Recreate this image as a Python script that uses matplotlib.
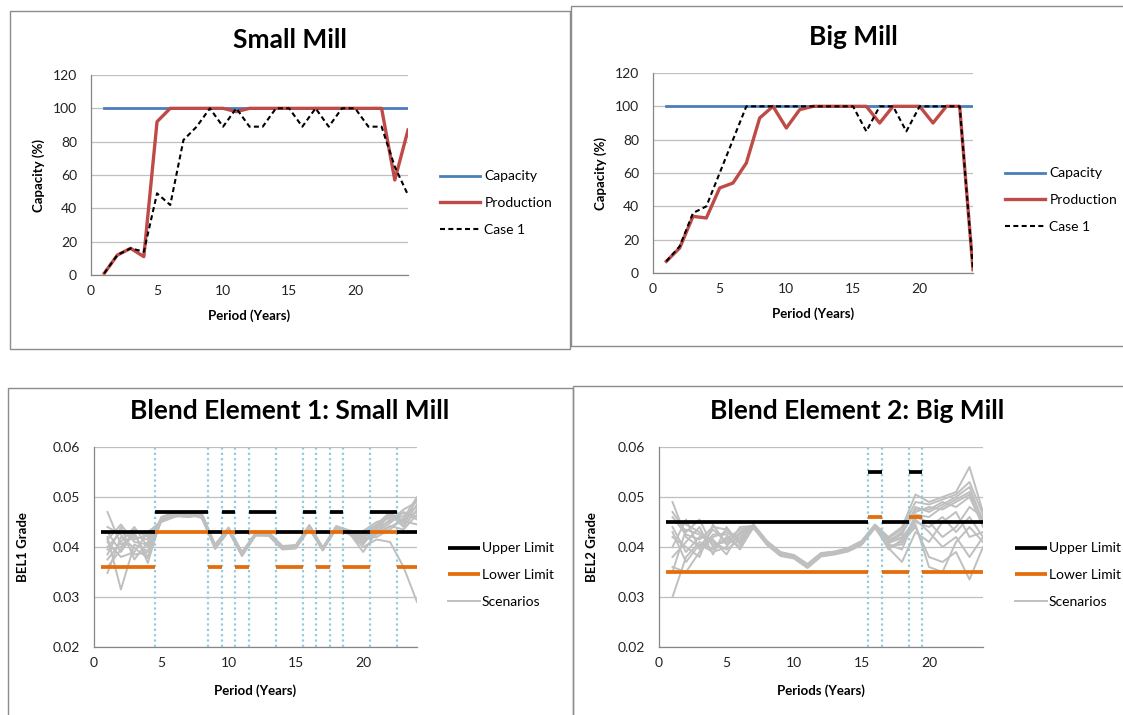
import matplotlib
matplotlib.use("Agg")
import matplotlib.pyplot as plt
from matplotlib.patches import Rectangle
from matplotlib.ticker import FormatStrFormatter

plt.rcParams['font.family'] = ['Lato', 'DejaVu Sans']

W, H = 1123, 715

# ---- mill capacity data (% of capacity per period) ----
periods = list(range(1, 25))

small_capacity = [100] * 24
small_production = [1, 12, 16, 11, 92, 100, 100, 100, 100, 100, 98, 100,
                    100, 100, 100, 100, 100, 100, 100, 100, 100, 100, 57, 87]
small_case1 = [1, 12, 16, 14, 49, 42, 81, 89, 100, 89, 100, 89,
               89, 100, 100, 89, 100, 89, 100, 100, 89, 89, 65, 48]

big_capacity = [100] * 24
big_production = [7, 15, 34, 33, 51, 54, 66, 93, 100, 87, 98, 100,
                  100, 100, 100, 100, 90, 100, 100, 100, 90, 100, 100, 2]
big_case1 = [7, 16, 36, 40, 60, 80, 100, 100, 100, 100, 100, 100,
             100, 100, 100, 85, 100, 100, 85, 100, 100, 100, 100, 2]

# ---- blend grade limits per period ----
bel1_upper = [0.043, 0.043, 0.043, 0.043, 0.047, 0.047, 0.047, 0.047, 0.043, 0.047, 0.043, 0.047,
              0.047, 0.043, 0.043, 0.047, 0.043, 0.047, 0.043, 0.043, 0.047, 0.047, 0.043, 0.043]
bel1_lower = [0.036, 0.036, 0.036, 0.036, 0.043, 0.043, 0.043, 0.043, 0.036, 0.043, 0.036, 0.043,
              0.043, 0.036, 0.036, 0.043, 0.036, 0.043, 0.036, 0.036, 0.043, 0.043, 0.036, 0.036]
bel2_upper = [0.045, 0.045, 0.045, 0.045, 0.045, 0.045, 0.045, 0.045, 0.045, 0.045, 0.045, 0.045,
              0.045, 0.045, 0.045, 0.055, 0.045, 0.045, 0.055, 0.045, 0.045, 0.045, 0.045, 0.045]
bel2_lower = [0.035, 0.035, 0.035, 0.035, 0.035, 0.035, 0.035, 0.035, 0.035, 0.035, 0.035, 0.035,
              0.035, 0.035, 0.035, 0.046, 0.035, 0.035, 0.046, 0.035, 0.035, 0.035, 0.035, 0.035]

# ---- blend grade scenarios ----
bel1_scenarios = [
    [0.0470, 0.0405, 0.0420, 0.0415, 0.0455, 0.0466, 0.0464, 0.0462, 0.0402, 0.0436, 0.0386, 0.0424,
     0.0426, 0.0399, 0.0401, 0.0441, 0.0396, 0.0437, 0.0428, 0.0420, 0.0432, 0.0455, 0.0462, 0.0480],
    [0.0348, 0.0420, 0.0398, 0.0378, 0.0452, 0.0462, 0.0460, 0.0465, 0.0398, 0.0433, 0.0382, 0.0426,
     0.0424, 0.0396, 0.0398, 0.0438, 0.0394, 0.0440, 0.0430, 0.0412, 0.0425, 0.0440, 0.0455, 0.0470],
    [0.0420, 0.0315, 0.0405, 0.0392, 0.0458, 0.0468, 0.0463, 0.0460, 0.0404, 0.0438, 0.0388, 0.0427,
     0.0428, 0.0401, 0.0403, 0.0443, 0.0398, 0.0436, 0.0426, 0.0400, 0.0415, 0.0410, 0.0360, 0.0290],
    [0.0385, 0.0440, 0.0375, 0.0410, 0.0450, 0.0460, 0.0466, 0.0458, 0.0396, 0.0431, 0.0384, 0.0423,
     0.0422, 0.0395, 0.0397, 0.0436, 0.0393, 0.0439, 0.0431, 0.0405, 0.0440, 0.0462, 0.0450, 0.0495],
    [0.0430, 0.0390, 0.0430, 0.0368, 0.0460, 0.0470, 0.0467, 0.0468, 0.0405, 0.0439, 0.0390, 0.0428,
     0.0429, 0.0402, 0.0404, 0.0444, 0.0399, 0.0442, 0.0433, 0.0428, 0.0445, 0.0470, 0.0445, 0.0485],
    [0.0400, 0.0430, 0.0415, 0.0425, 0.0453, 0.0464, 0.0461, 0.0463, 0.0399, 0.0434, 0.0383, 0.0425,
     0.0425, 0.0397, 0.0399, 0.0439, 0.0395, 0.0438, 0.0427, 0.0390, 0.0430, 0.0448, 0.0470, 0.0460],
    [0.0375, 0.0410, 0.0440, 0.0400, 0.0457, 0.0467, 0.0465, 0.0461, 0.0403, 0.0437, 0.0387, 0.0426,
     0.0427, 0.0400, 0.0402, 0.0442, 0.0397, 0.0441, 0.0429, 0.0418, 0.0420, 0.0435, 0.0458, 0.0500],
    [0.0410, 0.0380, 0.0390, 0.0430, 0.0451, 0.0463, 0.0462, 0.0464, 0.0397, 0.0432, 0.0385, 0.0424,
     0.0423, 0.0398, 0.0400, 0.0437, 0.0396, 0.0437, 0.0425, 0.0408, 0.0436, 0.0465, 0.0440, 0.0475],
    [0.0440, 0.0425, 0.0385, 0.0390, 0.0456, 0.0465, 0.0463, 0.0466, 0.0401, 0.0435, 0.0386, 0.0427,
     0.0426, 0.0400, 0.0401, 0.0440, 0.0398, 0.0440, 0.0432, 0.0432, 0.0450, 0.0458, 0.0468, 0.0455],
    [0.0395, 0.0400, 0.0425, 0.0380, 0.0454, 0.0466, 0.0464, 0.0462, 0.0400, 0.0434, 0.0384, 0.0425,
     0.0424, 0.0397, 0.0399, 0.0439, 0.0394, 0.0438, 0.0428, 0.0415, 0.0428, 0.0442, 0.0435, 0.0465],
    [0.0415, 0.0445, 0.0410, 0.0405, 0.0459, 0.0469, 0.0466, 0.0460, 0.0402, 0.0436, 0.0389, 0.0426,
     0.0427, 0.0399, 0.0400, 0.0441, 0.0397, 0.0439, 0.0430, 0.0422, 0.0438, 0.0452, 0.0475, 0.0490],
    [0.0360, 0.0395, 0.0435, 0.0420, 0.0452, 0.0463, 0.0460, 0.0464, 0.0398, 0.0433, 0.0383, 0.0423,
     0.0425, 0.0398, 0.0400, 0.0438, 0.0395, 0.0437, 0.0426, 0.0425, 0.0442, 0.0468, 0.0452, 0.0445],
]

bel2_scenarios = [
    [0.0490, 0.0420, 0.0400, 0.0435, 0.0410, 0.0425, 0.0442, 0.0410, 0.0388, 0.0382, 0.0364, 0.0386,
     0.0390, 0.0396, 0.0410, 0.0443, 0.0415, 0.0425, 0.0480, 0.0470, 0.0485, 0.0500, 0.0520, 0.0450],
    [0.0300, 0.0380, 0.0410, 0.0395, 0.0420, 0.0400, 0.0440, 0.0406, 0.0384, 0.0379, 0.0360, 0.0383,
     0.0387, 0.0393, 0.0406, 0.0440, 0.0408, 0.0418, 0.0455, 0.0430, 0.0400, 0.0420, 0.0380, 0.0420],
    [0.0450, 0.0445, 0.0430, 0.0410, 0.0395, 0.0415, 0.0445, 0.0412, 0.0390, 0.0384, 0.0366, 0.0388,
     0.0391, 0.0398, 0.0412, 0.0445, 0.0420, 0.0440, 0.0505, 0.0490, 0.0500, 0.0510, 0.0560, 0.0470],
    [0.0360, 0.0350, 0.0390, 0.0420, 0.0430, 0.0410, 0.0438, 0.0404, 0.0382, 0.0377, 0.0358, 0.0381,
     0.0385, 0.0391, 0.0404, 0.0438, 0.0400, 0.0410, 0.0440, 0.0380, 0.0370, 0.0390, 0.0335, 0.0400],
    [0.0470, 0.0430, 0.0455, 0.0400, 0.0415, 0.0435, 0.0443, 0.0409, 0.0387, 0.0381, 0.0363, 0.0385,
     0.0389, 0.0395, 0.0409, 0.0442, 0.0412, 0.0430, 0.0470, 0.0480, 0.0475, 0.0490, 0.0505, 0.0440],
    [0.0420, 0.0400, 0.0380, 0.0445, 0.0405, 0.0420, 0.0441, 0.0407, 0.0385, 0.0380, 0.0361, 0.0384,
     0.0388, 0.0394, 0.0407, 0.0441, 0.0405, 0.0395, 0.0460, 0.0450, 0.0420, 0.0440, 0.0480, 0.0460],
    [0.0380, 0.0410, 0.0440, 0.0385, 0.0440, 0.0405, 0.0439, 0.0405, 0.0383, 0.0378, 0.0359, 0.0382,
     0.0386, 0.0392, 0.0405, 0.0439, 0.0398, 0.0370, 0.0430, 0.0410, 0.0450, 0.0470, 0.0420, 0.0430],
    [0.0440, 0.0390, 0.0420, 0.0415, 0.0385, 0.0430, 0.0444, 0.0411, 0.0389, 0.0383, 0.0365, 0.0387,
     0.0390, 0.0397, 0.0411, 0.0444, 0.0418, 0.0435, 0.0490, 0.0485, 0.0495, 0.0505, 0.0530, 0.0465],
    [0.0400, 0.0455, 0.0395, 0.0425, 0.0425, 0.0395, 0.0440, 0.0406, 0.0384, 0.0379, 0.0362, 0.0384,
     0.0387, 0.0393, 0.0406, 0.0440, 0.0410, 0.0420, 0.0450, 0.0440, 0.0460, 0.0430, 0.0460, 0.0420],
    [0.0430, 0.0370, 0.0405, 0.0390, 0.0400, 0.0440, 0.0442, 0.0408, 0.0386, 0.0381, 0.0363, 0.0385,
     0.0389, 0.0395, 0.0408, 0.0442, 0.0402, 0.0405, 0.0465, 0.0460, 0.0480, 0.0495, 0.0510, 0.0455],
    [0.0460, 0.0425, 0.0415, 0.0440, 0.0435, 0.0412, 0.0444, 0.0409, 0.0387, 0.0382, 0.0364, 0.0386,
     0.0390, 0.0396, 0.0409, 0.0443, 0.0395, 0.0415, 0.0445, 0.0360, 0.0350, 0.0410, 0.0440, 0.0410],
    [0.0350, 0.0435, 0.0425, 0.0405, 0.0410, 0.0428, 0.0441, 0.0407, 0.0385, 0.0380, 0.0360, 0.0383,
     0.0387, 0.0394, 0.0407, 0.0441, 0.0407, 0.0428, 0.0475, 0.0475, 0.0490, 0.0480, 0.0500, 0.0445],
]

BLUE = '#4A7EBB'
RED = '#BE4B48'
ORANGE = '#E46C0A'
GREY = '#BFBFBF'
DOTBLUE = '#8FCCE0'
GRID = '#BFBFBF'
AXIS = '#868686'


def px_axes(fig, left, right, top, bottom):
    return fig.add_axes([left / W, 1 - bottom / H, (right - left) / W, (bottom - top) / H])


def style_axes(ax, ylim, yticks, xlabel, ylabel, xpad=9, ypad=6):
    ax.set_xlim(0, 24)
    ax.set_ylim(*ylim)
    ax.set_xticks([0, 5, 10, 15, 20])
    ax.set_yticks(yticks)
    ax.grid(axis='y', color=GRID, linewidth=0.9)
    ax.set_axisbelow(True)
    for s in ['top', 'right']:
        ax.spines[s].set_visible(False)
    for s in ['left', 'bottom']:
        ax.spines[s].set_color(AXIS)
        ax.spines[s].set_linewidth(0.9)
    ax.tick_params(length=0, labelsize=10, colors='#222222')
    ax.tick_params(axis='y', pad=10)
    ax.tick_params(axis='x', pad=7)
    ax.set_xlabel(xlabel, fontsize=9.5, fontweight='bold', labelpad=xpad)
    ax.set_ylabel(ylabel, fontsize=9.5, fontweight='bold', labelpad=ypad)


def draw_limit(ax, values, color, label):
    # one horizontal segment per run of equal values, period k covers k-0.5..k+0.5
    start = 0
    first = True
    for k in range(1, len(values) + 1):
        if k == len(values) or values[k] != values[start]:
            ax.plot([periods[start] - 0.5, periods[k - 1] + 0.5], [values[start]] * 2,
                    color=color, linewidth=2.7, solid_capstyle='butt', zorder=4,
                    label=label if first else None)
            first = False
            start = k


def draw_switches(ax, upper):
    for k in range(len(upper) - 1):
        if upper[k] != upper[k + 1]:
            ax.axvline(periods[k] + 0.5, color=DOTBLUE, linewidth=1.6,
                       linestyle=(0, (1, 1.4)), zorder=3)


def add_legend(ax, x, y, handlelen, textpad, handles=None, labels=None):
    if handles is None:
        handles, labels = ax.get_legend_handles_labels()
    ax.legend(handles, labels, loc='center left', bbox_to_anchor=(x / W, 1 - y / H),
              bbox_transform=fig.transFigure, frameon=False, fontsize=10, borderpad=0,
              borderaxespad=0, handlelength=handlelen, handletextpad=textpad,
              labelspacing=1.05)


fig = plt.figure(figsize=(W / 100, H / 100), dpi=100)

# panel frames
for x0, y0, x1, y1 in [(10, 11, 570, 349), (571, 6, 1130, 346),
                       (8, 388, 573, 720), (573, 386, 1130, 720)]:
    fig.patches.append(Rectangle((x0 / W, 1 - y1 / H), (x1 - x0) / W, (y1 - y0) / H,
                                 transform=fig.transFigure, fill=False,
                                 edgecolor='#8C8C8C', linewidth=1.0))

# ---- Small Mill ----
ax1 = px_axes(fig, 91, 408, 75, 275)
ax1.plot(periods, small_capacity, color=BLUE, linewidth=2.0, label='Capacity')
ax1.plot(periods, small_production, color=RED, linewidth=2.4, label='Production')
ax1.plot(periods, small_case1, color='black', linewidth=1.5, linestyle=(0, (2.4, 1.6)),
         label='Case 1')
style_axes(ax1, (0, 120), range(0, 121, 20), 'Period (Years)', 'Capacity (%)')
add_legend(ax1, 440, 203, 2.9, 0.3)
fig.text(290 / W, 1 - 40 / H, 'Small Mill', ha='center', va='center', fontsize=19, fontweight='bold')

# ---- Big Mill ----
ax2 = px_axes(fig, 653, 973, 73, 273)
ax2.plot(periods, big_capacity, color=BLUE, linewidth=2.0, label='Capacity')
ax2.plot(periods, big_production, color=RED, linewidth=2.4, label='Production')
ax2.plot(periods, big_case1, color='black', linewidth=1.5, linestyle=(0, (2.4, 1.6)),
         label='Case 1')
style_axes(ax2, (0, 120), range(0, 121, 20), 'Period (Years)', 'Capacity (%)')
add_legend(ax2, 1005, 200, 2.9, 0.3)
fig.text(853 / W, 1 - 37 / H, 'Big Mill', ha='center', va='center', fontsize=19, fontweight='bold')

# ---- Blend Element 1 ----
ax3 = px_axes(fig, 94, 417, 447, 647)
draw_switches(ax3, bel1_upper)
for i, s in enumerate(bel1_scenarios):
    ax3.plot(periods, s, color=GREY, linewidth=1.4, zorder=2, label='Scenarios' if i == 0 else None)
draw_limit(ax3, bel1_upper, 'black', 'Upper Limit')
draw_limit(ax3, bel1_lower, ORANGE, 'Lower Limit')
style_axes(ax3, (0.02, 0.06), [0.02, 0.03, 0.04, 0.05, 0.06], 'Period (Years)', 'BEL1 Grade',
           xpad=11, ypad=17)
ax3.yaxis.set_major_formatter(FormatStrFormatter('%.2f'))
h, l = ax3.get_legend_handles_labels()
order = [l.index('Upper Limit'), l.index('Lower Limit'), l.index('Scenarios')]
add_legend(ax3, 448, 575, 2.3, 0.15, [h[i] for i in order], [l[i] for i in order])
fig.text(290 / W, 1 - 411 / H, 'Blend Element 1: Small Mill', ha='center', va='center',
         fontsize=19, fontweight='bold')

# ---- Blend Element 2 ----
ax4 = px_axes(fig, 659, 983, 447, 647)
draw_switches(ax4, bel2_upper)
for i, s in enumerate(bel2_scenarios):
    ax4.plot(periods, s, color=GREY, linewidth=1.4, zorder=2, label='Scenarios' if i == 0 else None)
draw_limit(ax4, bel2_upper, 'black', 'Upper Limit')
draw_limit(ax4, bel2_lower, ORANGE, 'Lower Limit')
style_axes(ax4, (0.02, 0.06), [0.02, 0.03, 0.04, 0.05, 0.06], 'Periods (Years)', 'BEL2 Grade',
           xpad=11, ypad=14)
ax4.yaxis.set_major_formatter(FormatStrFormatter('%.2f'))
h, l = ax4.get_legend_handles_labels()
order = [l.index('Upper Limit'), l.index('Lower Limit'), l.index('Scenarios')]
add_legend(ax4, 1015, 575, 2.3, 0.15, [h[i] for i in order], [l[i] for i in order])
fig.text(857 / W, 1 - 411 / H, 'Blend Element 2: Big Mill', ha='center', va='center',
         fontsize=19, fontweight='bold')

fig.savefig('out.png', dpi=100)
